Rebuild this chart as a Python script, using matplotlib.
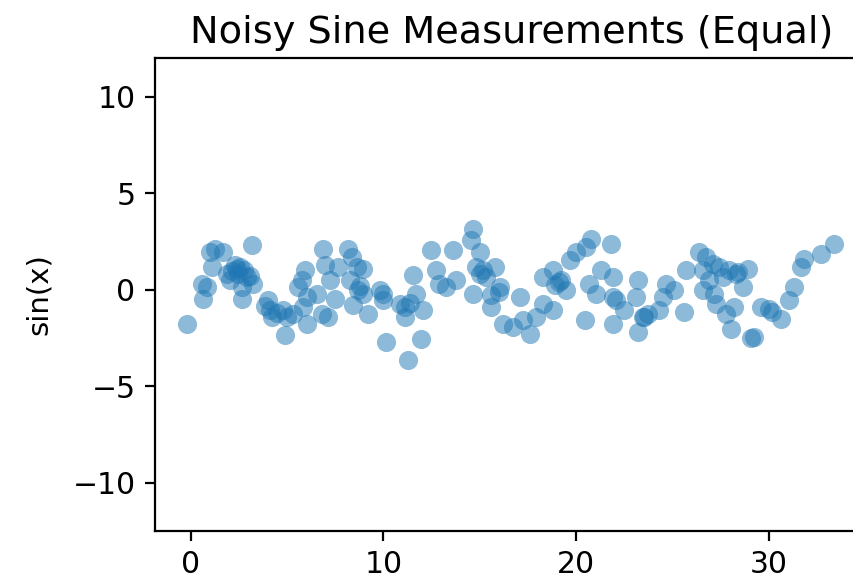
import matplotlib
matplotlib.use("Agg")
import matplotlib.pyplot as plt
import numpy as np

# noisy sine readings
x = [-0.20, 0.58, 0.66, 0.83, 1.09, 1.26, 1.69, 1.01, 1.87, 2.04,
     2.30, 2.56, 2.47, 2.91, 3.17, 2.65, 2.65, 3.25, 3.08, 2.16,
     2.77, 4.03, 4.11, 4.20, 3.85, 4.80, 4.98, 4.89, 5.32, 6.02,
     5.58, 5.76, 5.93, 6.02, 5.84, 6.53, 6.88, 6.96, 7.22, 6.79,
     7.13, 7.48, 7.65, 8.17, 8.35, 8.61, 8.95, 8.26, 8.69, 8.95,
     8.43, 9.21, 9.81, 9.98, 10.16, 9.98, 10.85, 11.11, 11.37, 11.11,
     11.54, 11.71, 12.06, 11.97, 11.28, 12.49, 12.75, 13.27, 13.61, 13.79,
     14.65, 14.56, 14.99, 14.82, 15.17, 15.34, 15.77, 14.65, 15.60, 16.03,
     17.07, 15.60, 16.20, 16.72, 17.59, 17.22, 17.93, 18.27, 18.79, 18.27,
     18.79, 19.23, 18.93, 19.66, 20.01, 20.52, 20.78, 19.49, 20.44, 20.69,
     21.04, 21.30, 21.82, 21.90, 21.90, 21.90, 22.08, 22.51, 23.11, 23.20,
     23.46, 23.72, 23.20, 24.32, 24.49, 24.67, 25.10, 25.62, 25.70, 26.39,
     26.74, 26.56, 27.08, 26.91, 26.56, 27.17, 27.26, 27.60, 27.95, 28.30,
     28.90, 28.64, 27.78, 28.04, 28.21, 29.24, 29.10, 29.59, 30.19, 30.00,
     30.63, 31.06, 31.32, 31.66, 31.84, 32.70, 33.38,
     2.40, 4.50, 8.80, 12.90, 15.00, 19.10, 23.50, 27.40, 28.40, 16.00]
y = [-1.80, 0.31, -0.47, 0.13, 1.17, 2.12, 1.95, 1.93, 0.83, 0.48,
     1.26, 1.17, 0.83, 0.65, 2.30, -0.47, 0.13, 0.31, 0.69, 0.95,
     1.00, -0.55, -1.07, -1.42, -0.87, -1.07, -1.42, -2.37, -1.24, -1.76,
     0.13, 0.48, 1.00, -0.38, -0.90, -0.21, 2.12, 1.26, 0.48, -1.24,
     -1.42, -0.47, 1.17, 2.12, 1.69, 1.17, 1.09, 0.48, -0.04, -0.21,
     -0.81, -1.24, -0.04, -0.55, -2.72, -0.21, -0.73, -0.90, -0.71, -1.42,
     0.74, -0.21, -1.07, -2.54, -3.66, 2.04, 1.00, 0.13, 2.04, 0.48,
     3.16, 2.55, 1.95, 1.17, 1.00, 0.65, 1.17, -0.21, -0.30, 0.13,
     -0.38, -0.90, -1.76, -1.94, -2.28, -1.59, -1.42, -0.73, -1.07, 0.65,
     1.00, 0.48, 0.22, 1.52, 1.95, 2.21, 2.64, -0.04, -1.59, 0.31,
     -0.21, 1.00, 2.38, 0.65, -0.38, -1.76, -0.55, -1.07, -0.38, 0.48,
     -1.42, -1.24, -2.20, -1.07, -0.38, 0.31, -0.04, -1.16, 1.00, 1.95,
     1.69, 1.00, 1.35, 0.48, -0.04, -0.21, -0.73, 0.65, 1.00, 0.83,
     1.09, 0.13, -1.24, -2.02, -0.90, -2.46, -2.50, -0.90, -1.16, -1.00,
     -1.50, -0.55, 0.13, 1.17, 1.61, 1.87, 2.38,
     1.05, -1.20, 0.20, 0.30, 0.80, 0.40, -1.40, 1.20, 0.90, -0.10]

fig = plt.figure(figsize=(8.54, 5.83), dpi=100)
ax = fig.add_axes([0.1815, 0.0892, 0.8361, 0.8113])

ax.scatter(x, y, s=190, alpha=0.5, color='tab:blue', linewidths=0)

ax.set_xlim(-1.85, 35.2)
ax.set_ylim(-12.5, 12.0)
ax.set_xticks([0, 10, 20, 30])
ax.set_yticks([-10, -5, 0, 5, 10])

ax.set_title('Noisy Sine Measurements (Equal)', fontsize=27.5, pad=11)
ax.set_ylabel('sin(x)', fontsize=21, labelpad=14)
ax.tick_params(labelsize=21.5, length=7, width=1.6, pad=7)
for sp in ax.spines.values():
    sp.set_linewidth(1.6)

fig.savefig('out.png', dpi=100)
